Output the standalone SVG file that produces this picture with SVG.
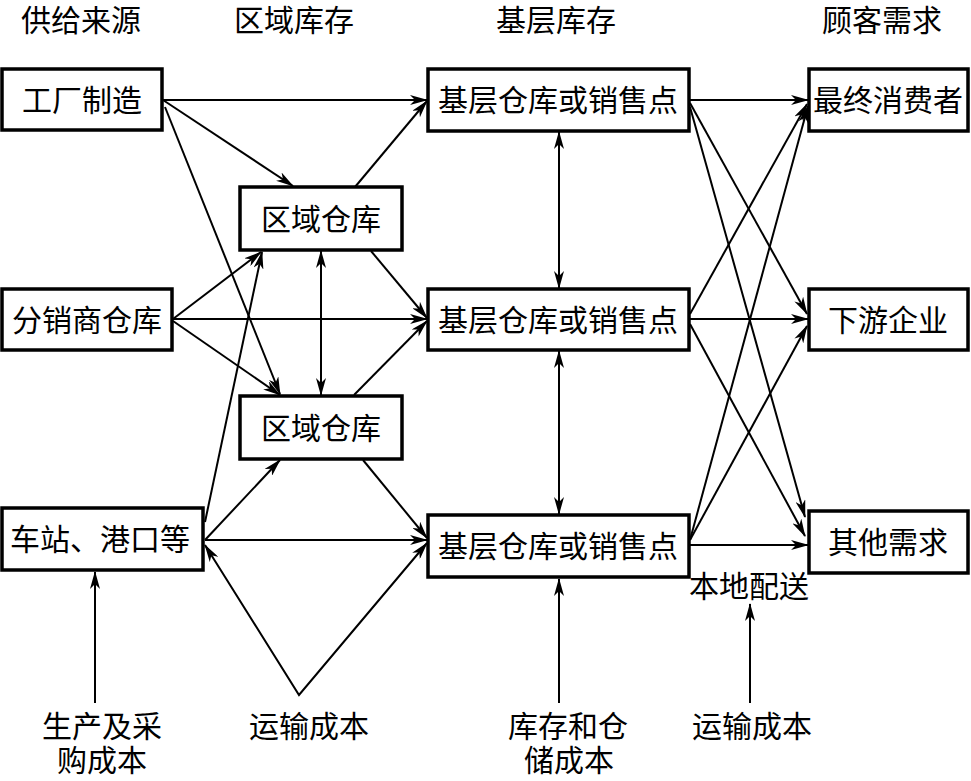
<svg xmlns="http://www.w3.org/2000/svg" width="971" height="781" viewBox="0 0 971 781">
<defs>
<marker id="ah" viewBox="0 0 18 10" refX="17" refY="5" markerWidth="18" markerHeight="10" markerUnits="userSpaceOnUse" orient="auto-start-reverse">
<path d="M0,0 L18,5 L0,10 L5,5 Z" fill="#000"/>
</marker>
</defs>
<style>
text{font-family:"Noto Sans CJK SC","Noto Sans",sans-serif;font-size:30px;fill:#000;text-anchor:middle}
.box{fill:#fff;stroke:#000;stroke-width:3.5}
.c{fill:none;stroke:#000;stroke-width:2;marker-end:url(#ah)}
.d{fill:none;stroke:#000;stroke-width:2;marker-start:url(#ah);marker-end:url(#ah)}
</style>
<rect width="971" height="781" fill="#fff"/>
<g id="headers">
<text x="81" y="31">供给来源</text>
<text x="294" y="31">区域库存</text>
<text x="556" y="31">基层库存</text>
<text x="882" y="31">顾客需求</text>
</g>
<g id="connectors">
<path class="c" d="M163,100 L427,100"/>
<path class="c" d="M163,100 L293,186"/>
<path class="c" d="M165,107 L280,394"/>
<path class="c" d="M355,187 L427,101"/>
<path class="c" d="M371,251 L427,318"/>
<path class="c" d="M173,319 L261,252"/>
<path class="c" d="M173,319 L427,319"/>
<path class="c" d="M173,321 L280,395"/>
<path class="c" d="M205,522 L262,252"/>
<path class="c" d="M205,540 L280,460"/>
<path class="c" d="M205,540 L427,540"/>
<path class="c" d="M363,460 L427,538"/>
<path class="c" d="M354,395 L427,321"/>
<path class="d" d="M321,251 L321,395"/>
<path class="d" d="M559,132 L559,288"/>
<path class="d" d="M559,351 L559,514"/>
<path class="d" d="M205,545 L299,695 L427,543"/>
<path class="c" d="M95,703 L95,572"/>
<path class="c" d="M559,703 L559,579"/>
<path class="c" d="M750,703 L750,604"/>
<path class="c" d="M690,100 L808,100"/>
<path class="c" d="M690,103 L807,314"/>
<path class="c" d="M690,107 L805,517"/>
<path class="c" d="M690,314 L807,104"/>
<path class="c" d="M690,319 L808,319"/>
<path class="c" d="M690,324 L805,536"/>
<path class="c" d="M690,540 L808,106"/>
<path class="c" d="M690,540 L807,326"/>
<path class="c" d="M690,545 L808,545"/>
</g>
<g id="n-factory"><rect class="box" x="2" y="69" width="160" height="61"/><text x="82" y="111">工厂制造</text></g>
<g id="n-distributor"><rect class="box" x="2" y="289" width="170" height="61"/><text x="87" y="331">分销商仓库</text></g>
<g id="n-station"><rect class="box" x="2" y="508" width="201" height="62"/><text x="100" y="550">车站、港口等</text></g>
<g id="n-region1"><rect class="box" x="240" y="187" width="162" height="63"/><text x="321" y="230">区域仓库</text></g>
<g id="n-region2"><rect class="box" x="240" y="396" width="162" height="63"/><text x="321" y="439">区域仓库</text></g>
<g id="n-base1"><rect class="box" x="428" y="69" width="261" height="62"/><text x="558" y="111">基层仓库或销售点</text></g>
<g id="n-base2"><rect class="box" x="428" y="289" width="261" height="61"/><text x="558" y="331">基层仓库或销售点</text></g>
<g id="n-base3"><rect class="box" x="428" y="515" width="261" height="62"/><text x="558" y="557">基层仓库或销售点</text></g>
<g id="n-consumer"><rect class="box" x="809" y="69" width="159" height="62"/><text x="888" y="111">最终消费者</text></g>
<g id="n-downstream"><rect class="box" x="809" y="289" width="159" height="61"/><text x="888" y="331">下游企业</text></g>
<g id="n-other"><rect class="box" x="809" y="511" width="159" height="62"/><text x="888" y="553">其他需求</text></g>
<g id="labels">
<text x="749" y="597">本地配送</text>
<text x="102" y="737">生产及采</text>
<text x="102" y="771">购成本</text>
<text x="309" y="737">运输成本</text>
<text x="568" y="737">库存和仓</text>
<text x="569" y="771">储成本</text>
<text x="752" y="737">运输成本</text>
</g>
</svg>
